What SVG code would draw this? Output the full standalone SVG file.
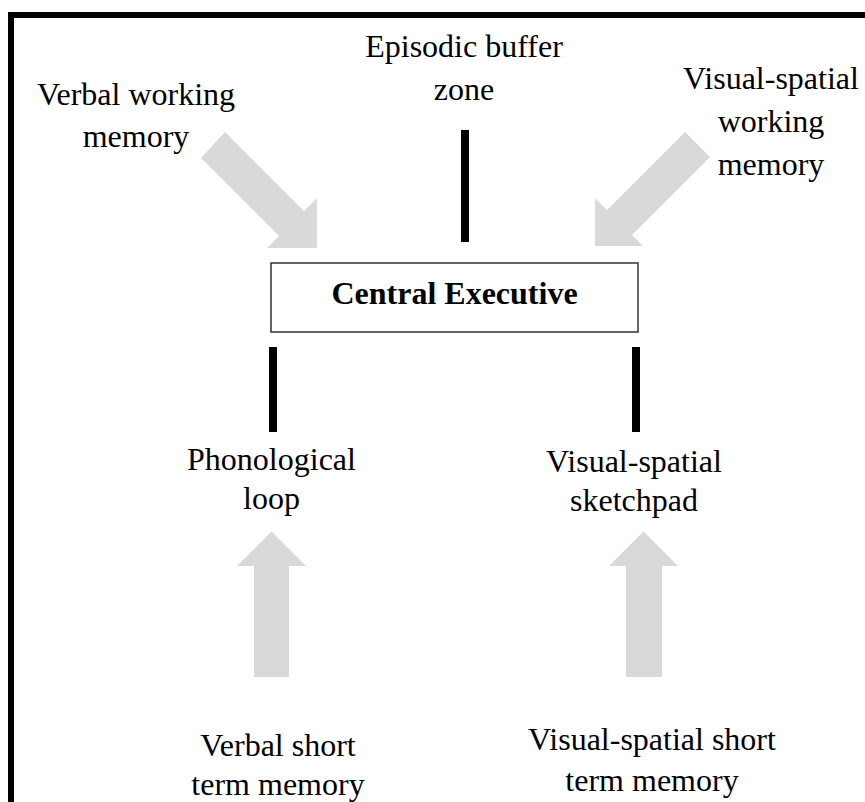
<svg xmlns="http://www.w3.org/2000/svg" width="865" height="802" viewBox="0 0 865 802">
<style>
  text { font-family: "Liberation Serif", "Times New Roman", serif; font-size: 32px; fill: #000; text-anchor: middle; }
  .bold { font-weight: bold; }
  .arrow { fill: #d9d9d9; stroke: none; }
  .bar { fill: #000; }
  .frame { fill: #000; }
</style>
<rect width="865" height="802" fill="#fff"/>
<g id="frame">
  <rect class="frame" x="8" y="12" width="857" height="6"/>
  <rect class="frame" x="8" y="12" width="6" height="790"/>
</g>
<g id="connectors">
  <polygon class="arrow" points="225,132 304,211 317,198 317,248 267,248 279,236 201,158"/>
  <polygon class="arrow" points="685,132 710,157 632,235 643,246 595,246 595,198 607,210"/>
  <polygon class="arrow" points="254,677 254,566 237,566 271.5,531.5 306,566 289,566 289,677"/>
  <polygon class="arrow" points="626,677 626,566 609,566 643.5,531.5 678,566 662,566 662,677"/>
  <rect class="bar" x="461" y="130" width="8" height="112"/>
  <rect class="bar" x="269" y="347" width="8" height="85"/>
  <rect class="bar" x="632" y="347" width="8" height="85"/>
</g>
<g id="central-executive">
  <rect x="271" y="263" width="367" height="69" fill="#fff" stroke="#333" stroke-width="1.5"/>
  <text class="bold" x="454.5" y="304">Central Executive</text>
</g>
<g id="verbal-working-memory">
  <text x="136" y="105">Verbal working</text>
  <text x="136" y="147">memory</text>
</g>
<g id="episodic-buffer">
  <text x="464" y="57">Episodic buffer</text>
  <text x="464" y="100">zone</text>
</g>
<g id="visual-spatial-working-memory">
  <text x="771" y="89">Visual-spatial</text>
  <text x="771" y="132">working</text>
  <text x="771" y="175">memory</text>
</g>
<g id="phonological-loop">
  <text x="271.5" y="470">Phonological</text>
  <text x="271.5" y="509">loop</text>
</g>
<g id="visual-spatial-sketchpad">
  <text x="634" y="472">Visual-spatial</text>
  <text x="634" y="511">sketchpad</text>
</g>
<g id="verbal-short-term-memory">
  <text x="278" y="756">Verbal short</text>
  <text x="278" y="795">term memory</text>
</g>
<g id="visual-spatial-short-term-memory">
  <text x="652" y="750">Visual-spatial short</text>
  <text x="652" y="791">term memory</text>
</g>
</svg>
